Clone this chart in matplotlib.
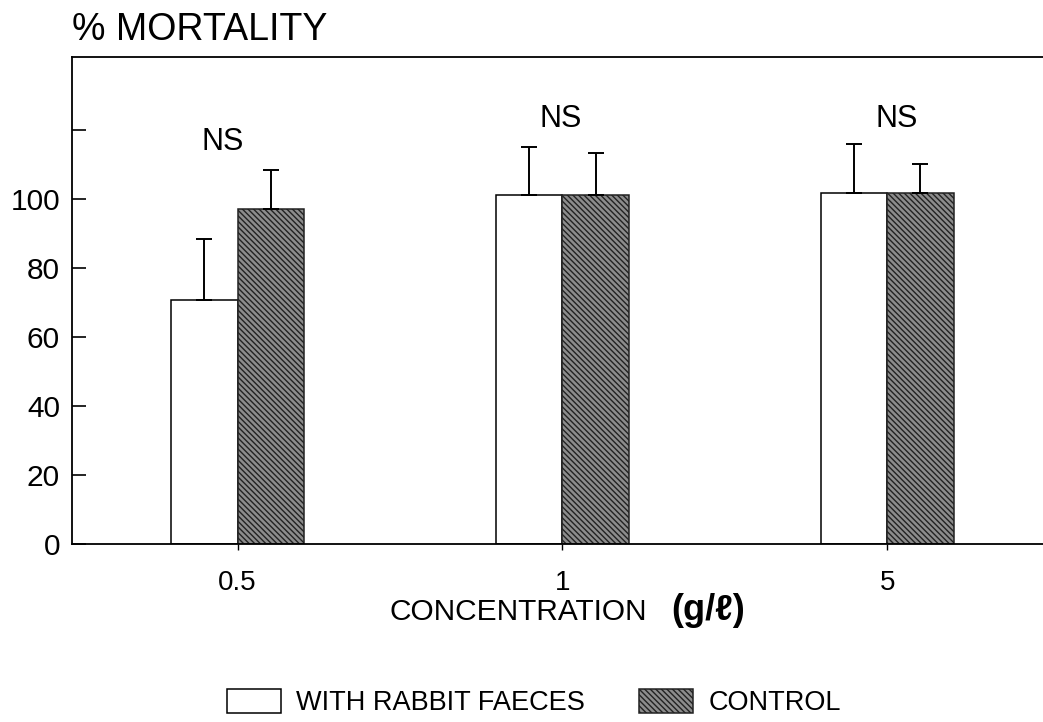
import matplotlib
matplotlib.use("Agg")
import matplotlib.pyplot as plt
import numpy as np

plt.rcParams['font.family'] = ['Liberation Sans', 'DejaVu Sans']
plt.rcParams['hatch.linewidth'] = 1.0

# data
concentrations = ["0.5", "1", "5"]
rabbit_faeces = [70.5, 101, 101.5]
rabbit_err = [17.8, 13.9, 14.3]
control = [97, 101, 101.5]
control_err = [11.4, 12.3, 8.6]
sig_labels = ["NS", "NS", "NS"]
sig_y = [116.5, 123, 123]
sig_dx = [-0.045, -0.005, 0.03]

x = np.arange(len(concentrations))
w = 0.205

fig = plt.figure(figsize=(10.43, 7.22), dpi=100)
ax = fig.add_axes([0.069, 0.247, 0.931, 0.674])

err_kw = dict(ecolor='black', elinewidth=1.4, capsize=6, capthick=1.4)
ax.bar(x - w / 2, rabbit_faeces, w, color='white', edgecolor='black', linewidth=1.1,
       yerr=[np.zeros(3), rabbit_err], error_kw=err_kw, label="WITH RABBIT FAECES")
ax.bar(x + w / 2, control, w, color='#8c8c8c', edgecolor='#222222', linewidth=1.1,
       hatch='\\\\\\\\\\\\', yerr=[np.zeros(3), control_err], error_kw=err_kw,
       label="CONTROL")

for xi, lab, yy, dx in zip(x, sig_labels, sig_y, sig_dx):
    ax.text(xi + dx, yy, lab, ha='center', va='center', fontsize=22)

ax.set_xlim(-0.51, 2.48)
ax.set_ylim(0, 141)
ax.set_yticks(range(0, 121, 20))
ax.set_yticklabels([str(v) for v in range(0, 101, 20)] + [""])
ax.set_xticks(x)
ax.set_xticklabels(concentrations)

ax.tick_params(axis='y', direction='in', length=10, width=1.2, pad=8.6, labelsize=21.5)
ax.tick_params(axis='x', direction='out', length=4, width=1.0, pad=15, labelsize=20)
ax.spines['right'].set_visible(False)
for s in ['left', 'top', 'bottom']:
    ax.spines[s].set_linewidth(1.3)

fig.text(0.069, 0.945, "% MORTALITY", fontsize=27, ha='left', va='baseline')
fig.text(0.620, 0.141, "CONCENTRATION", fontsize=21.5, ha='right', va='baseline')
fig.text(0.644, 0.141, "(g/ℓ)", fontsize=26, fontweight='bold', ha='left', va='baseline')

fig.legend(loc='center', bbox_to_anchor=(0.512, 0.027), ncol=2, frameon=False,
           fontsize=19.5, handlelength=2.0, handleheight=1.0, handletextpad=0.55,
           columnspacing=2.0)

fig.savefig("out.png", dpi=100)
